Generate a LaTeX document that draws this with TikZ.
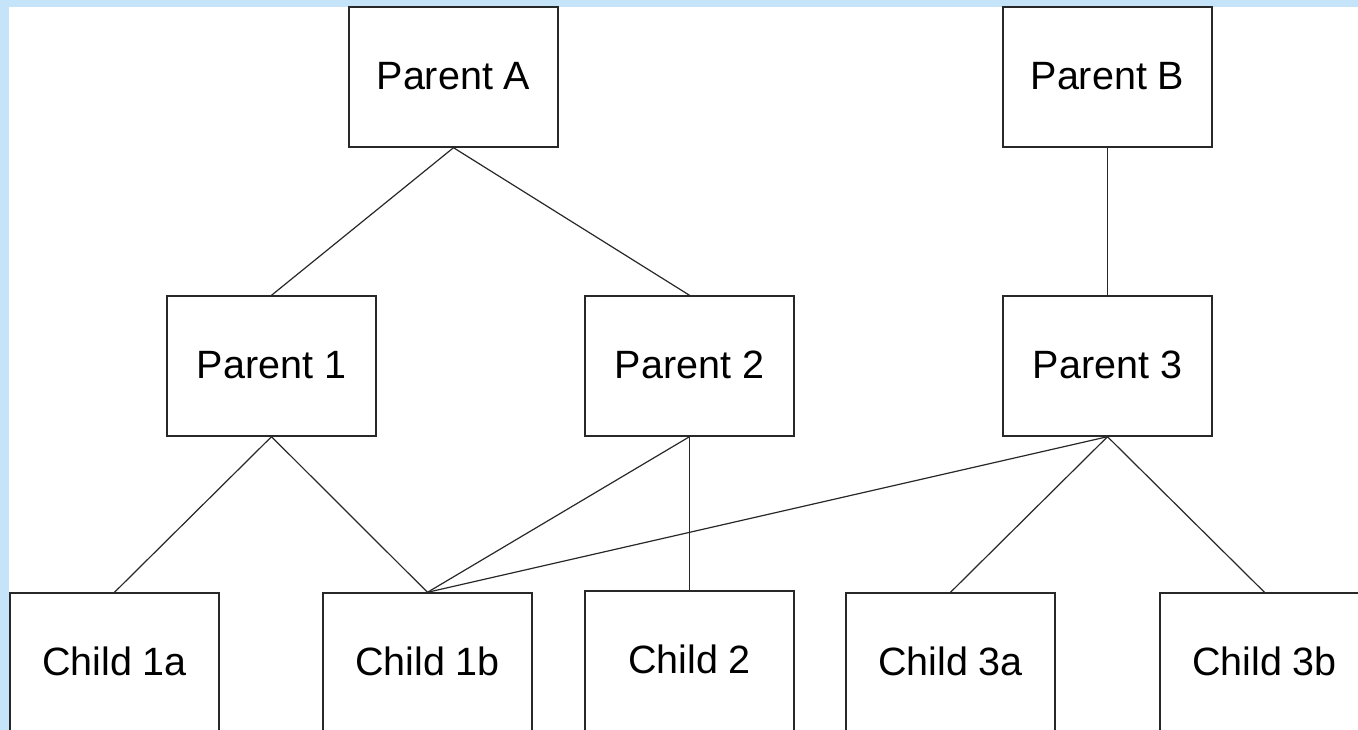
\documentclass[tikz,border=0pt]{standalone}
\usepackage{fontspec}
\setmainfont{Liberation Sans}
\definecolor{bgblue}{RGB}{198,228,249}
\definecolor{linegray}{RGB}{40,40,40}
\begin{document}
\begin{tikzpicture}[x=1pt, y=-1pt,
  box/.style={draw=linegray, line width=1.4pt, minimum width=209pt, minimum height=140pt, inner sep=0pt, text height=28.5pt, text depth=4pt, font=\fontsize{39.5}{46}\selectfont},
  link/.style={draw=linegray, line width=1.2pt}]
\clip (0,0) rectangle (1358,730);
\fill[bgblue] (0,0) rectangle (1358,730);
\fill[white] (9,7) rectangle (1358,730);

\node[box] (pa) at (453.5,77) {Parent A};
\node[box] (pb) at (1107.5,77) {Parent B};

\node[box] (p1) at (271.5,366) {Parent 1};
\node[box] (p2) at (689.5,366) {Parent 2};
\node[box] (p3) at (1107.5,366) {Parent 3};

\node[box] (c1a) at (114.5,663) {Child 1a};
\node[box] (c1b) at (427.5,663) {Child 1b};
\node[box] (c2) at (689.5,661) {Child 2};
\node[box] (c3a) at (950.5,663) {Child 3a};
\node[box] (c3b) at (1264.5,663) {Child 3b};

\draw[link] (pa.south) -- (p1.north);
\draw[link] (pa.south) -- (p2.north);
\draw[link] (pb.south) -- (p3.north);
\draw[link] (p1.south) -- (c1a.north);
\draw[link] (p1.south) -- (c1b.north);
\draw[link] (p2.south) -- (c1b.north);
\draw[link] (p2.south) -- (c2.north);
\draw[link] (p3.south) -- (c1b.north);
\draw[link] (p3.south) -- (c3a.north);
\draw[link] (p3.south) -- (c3b.north);
\end{tikzpicture}
\end{document}
